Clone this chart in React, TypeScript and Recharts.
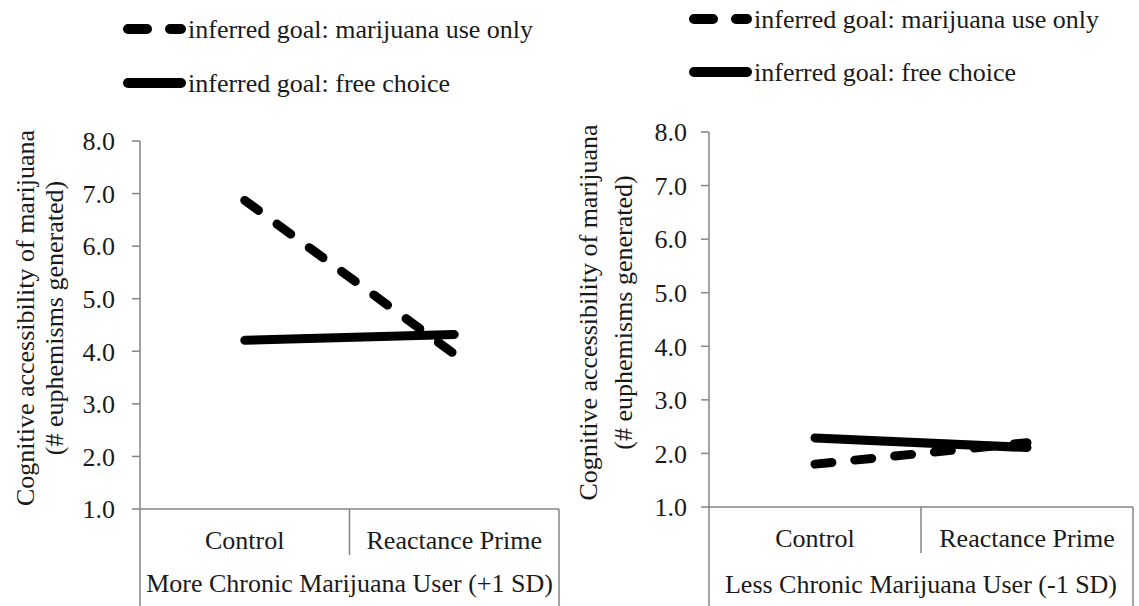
import { LineChart, Line, XAxis, YAxis, Legend } from "recharts"

// conditions on the x axis
const conditions = ["Control", "Reactance Prime"]

// mean number of euphemisms generated
const moreChronicUseOnly = [6.87, 3.95]
const moreChronicFreeChoice = [4.21, 4.32]
const lessChronicUseOnly = [1.8, 2.2]
const lessChronicFreeChoice = [2.29, 2.11]

const yTicks = [1, 2, 3, 4, 5, 6, 7, 8]
const seriesNames = ["inferred goal: marijuana use only", "inferred goal: free choice"]
const groupLabels = ["More Chronic Marijuana User (+1 SD)", "Less Chronic Marijuana User (-1 SD)"]
const yLabelLines = ["Cognitive accessibility of marijuana", "(# euphemisms generated)"]

const FONT = "Liberation Serif, Times New Roman, serif"
const TEXT = "#1a1a1a"
const AXIS = "#858585"
const CHART_H = 606
const LEGEND_H = 110

const buildRows = (useOnly: number[], freeChoice: number[]) =>
    conditions.map((c, i) => ({ condition: c, useOnly: useOnly[i], freeChoice: freeChoice[i] }))

interface PanelProps {
    width: number
    plotLeft: number
    plotRight: number
    plotTop: number
    plotBottom: number
    tickMargin: number
    legendX: number
    legendRows: number[]
    labelX: number[]
    groupDy: number
    group: string
    data: { condition: string; useOnly: number; freeChoice: number }[]
}

function YLabel(props: any) {
    const { viewBox, xs } = props
    const cy = viewBox.y + viewBox.height / 2 - 7
    return (
        <g>
            {yLabelLines.map((t, i) => (
                <text
                    key={t}
                    x={xs[i]}
                    y={cy}
                    transform={`rotate(-90, ${xs[i]}, ${cy})`}
                    textAnchor="middle"
                    dominantBaseline="central"
                    fontSize={26}
                    style={{ fontFamily: FONT }}
                    fill={TEXT}
                >
                    {t}
                </text>
            ))}
        </g>
    )
}

function Panel(p: PanelProps) {
    const plotW = p.plotRight - p.plotLeft
    const half = plotW / 4
    const depth = CHART_H - p.plotBottom

    // category label plus the Excel-style grouping box under the axis
    const renderTick = (props: any) => {
        const { x, y, payload, index } = props
        return (
            <g>
                <text
                    x={x}
                    y={y + 31}
                    textAnchor="middle"
                    dominantBaseline="central"
                    fontSize={26}
                    style={{ fontFamily: FONT }}
                    fill={TEXT}
                >
                    {payload.value}
                </text>
                {index === 0 && (
                    <>
                        <line x1={x - half} y1={y} x2={x - half} y2={y + depth} stroke={AXIS} strokeWidth={1.5} />
                        <line x1={x + half} y1={y} x2={x + half} y2={y + 46} stroke={AXIS} strokeWidth={1.5} />
                    </>
                )}
                {index === 1 && (
                    <>
                        <line x1={x + half} y1={y} x2={x + half} y2={y + depth} stroke={AXIS} strokeWidth={1.5} />
                        <text
                            x={x - half}
                            y={y + p.groupDy}
                            textAnchor="middle"
                            dominantBaseline="central"
                            fontSize={26}
                            style={{ fontFamily: FONT }}
                            fill={TEXT}
                        >
                            {p.group}
                        </text>
                    </>
                )}
            </g>
        )
    }

    const renderLegend = () => (
        <svg width={p.width} height={LEGEND_H} style={{ display: "block" }}>
            {seriesNames.map((name, i) => (
                <g key={name}>
                    <line
                        x1={p.legendX + 5}
                        y1={p.legendRows[i]}
                        x2={p.legendX + 58}
                        y2={p.legendRows[i]}
                        stroke="#000"
                        strokeWidth={10}
                        strokeLinecap="round"
                        strokeDasharray={i === 0 ? "19 23" : undefined}
                    />
                    <text
                        x={p.legendX + 65}
                        y={p.legendRows[i]}
                        dominantBaseline="central"
                        fontSize={26}
                        style={{ fontFamily: FONT }}
                        fill={TEXT}
                    >
                        {name}
                    </text>
                </g>
            ))}
        </svg>
    )

    return (
        <LineChart
            width={p.width}
            height={CHART_H}
            data={p.data}
            margin={{ top: p.plotTop - LEGEND_H, right: p.width - p.plotRight, bottom: 0, left: 0 }}
        >
            <Legend
                verticalAlign="top"
                align="left"
                content={renderLegend}
                wrapperStyle={{ top: 0, left: 0, width: p.width, height: LEGEND_H }}
            />
            <XAxis
                dataKey="condition"
                type="category"
                height={depth}
                padding={{ left: half, right: half }}
                interval={0}
                tickLine={false}
                tickSize={0}
                tickMargin={0}
                axisLine={{ stroke: AXIS, strokeWidth: 1.5 }}
                tick={renderTick}
            />
            <YAxis
                type="number"
                domain={[1, 8]}
                ticks={yTicks}
                width={p.plotLeft}
                tickSize={8}
                tickMargin={p.tickMargin}
                tickFormatter={(v: number) => v.toFixed(1)}
                tick={{ fontSize: 26, fontFamily: FONT, fill: TEXT }}
                axisLine={{ stroke: AXIS, strokeWidth: 1.5 }}
                tickLine={{ stroke: AXIS, strokeWidth: 1.5 }}
                label={<YLabel xs={p.labelX} />}
            />
            <Line
                dataKey="useOnly"
                name={seriesNames[0]}
                stroke="#000"
                strokeWidth={9}
                strokeLinecap="round"
                strokeDasharray="17 23"
                dot={false}
                activeDot={false}
                isAnimationActive={false}
            />
            <Line
                dataKey="freeChoice"
                name={seriesNames[1]}
                stroke="#000"
                strokeWidth={9}
                strokeLinecap="round"
                dot={false}
                activeDot={false}
                isAnimationActive={false}
            />
        </LineChart>
    )
}

export default function App() {
    return (
        <div style={{ position: "absolute", left: 0, top: 0, width: 1139, height: 606, background: "#fff", display: "flex" }}>
            <Panel
                width={570}
                plotLeft={140}
                plotRight={559}
                plotTop={141}
                plotBottom={509}
                tickMargin={17}
                legendX={123}
                legendRows={[29, 83]}
                labelX={[25, 54]}
                groupDy={74}
                group={groupLabels[0]}
                data={buildRows(moreChronicUseOnly, moreChronicFreeChoice)}
            />
            <Panel
                width={569}
                plotLeft={139}
                plotRight={563}
                plotTop={132}
                plotBottom={507}
                tickMargin={14}
                legendX={119}
                legendRows={[19, 72]}
                labelX={[18, 53]}
                groupDy={77}
                group={groupLabels[1]}
                data={buildRows(lessChronicUseOnly, lessChronicFreeChoice)}
            />
        </div>
    )
}
